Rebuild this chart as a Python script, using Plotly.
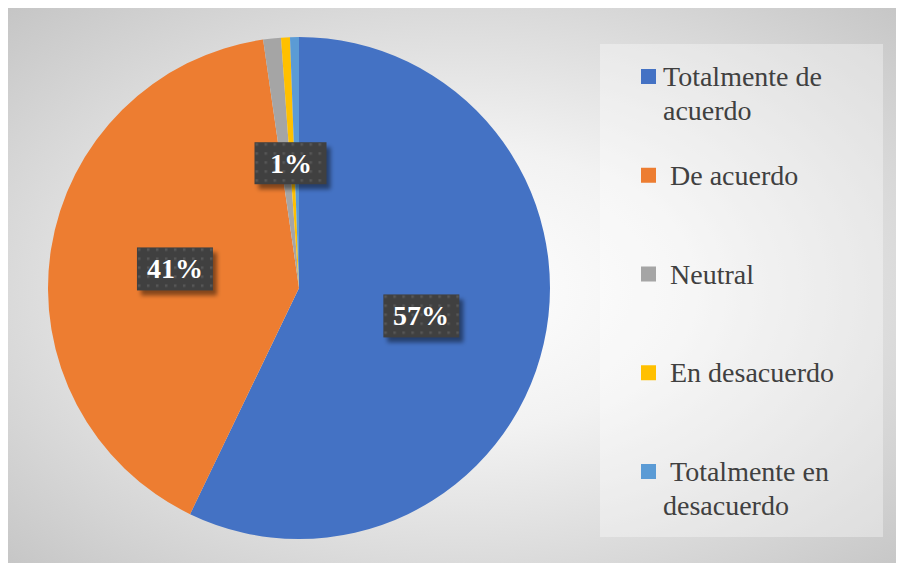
import base64
import math
import textwrap
import plotly.graph_objects as go

# ---------------- data ----------------
categories = ["Totalmente de acuerdo", "De acuerdo", "Neutral",
              "En desacuerdo", "Totalmente en desacuerdo"]
values = [100, 71, 2, 1, 1]
colors = ["#4472C4", "#ED7D31", "#A5A5A5", "#FFC000", "#5B9BD5"]

# ---------------- layout geometry (figure pixels) ----------------
W, H = 904, 563
CX, CY, R = 291, 280, 251          # pie centre / radius
LEG_BOX = (592, 36, 875, 529)
FONT = "'Liberation Serif', 'Times New Roman', Tinos, 'DejaVu Serif', 'Noto Serif', serif"
TXT = "#404040"


def fx(x):
    return x / W


def fy(y):
    return 1 - y / H


def svg_uri(svg):
    return "data:image/svg+xml;base64," + base64.b64encode(svg.encode()).decode()


images = []
shapes = []
annotations = []

# background radial gradient over the whole chart area
bg_svg = (f'<svg xmlns="http://www.w3.org/2000/svg" width="{W}" height="{H}">'
          '<defs><radialGradient id="g" cx="0.5" cy="0.5" r="0.72">'
          '<stop offset="0" stop-color="#ffffff"/>'
          '<stop offset="0.35" stop-color="#f2f2f2"/>'
          '<stop offset="1" stop-color="#c4c4c4"/></radialGradient></defs>'
          f'<rect width="{W}" height="{H}" fill="url(#g)"/></svg>')
images.append(dict(source=svg_uri(bg_svg), xref="paper", yref="paper",
                   x=0, y=1, sizex=1, sizey=1,
                   xanchor="left", yanchor="top", sizing="stretch", layer="below"))

# legend panel
shapes.append(dict(type="rect", xref="paper", yref="paper",
                   x0=fx(LEG_BOX[0]), x1=fx(LEG_BOX[2]),
                   y0=fy(LEG_BOX[3]), y1=fy(LEG_BOX[1]),
                   fillcolor="rgba(255,255,255,0.35)", line=dict(width=0),
                   layer="below"))

fig = go.Figure()
fig.add_trace(go.Pie(
    labels=categories, values=values, sort=False, direction="clockwise",
    rotation=0, textinfo="none", hoverinfo="label+percent", showlegend=False,
    marker=dict(colors=colors, line=dict(width=0)),
    domain=dict(x=[fx(CX - R), fx(CX + R)], y=[fy(CY + R), fy(CY - R)]),
))

# ---------------- data labels ----------------
total = sum(values)
cum = 0.0
for v in values:
    a0 = cum / total * 360
    cum += v
    a1 = cum / total * 360
    share = v / total * 100
    if share < 1:
        continue
    txt = f"{round(share)}%"
    mid = math.radians((a0 + a1) / 2)
    lx = CX + 0.5 * R * math.sin(mid)
    ly = CY - 0.5 * R * math.cos(mid)
    if len(txt) > 2:
        bw, bh = 76, 43
    else:
        bw, bh = 72, 42
        lx += 5
    pad = 4
    iw, ih = bw + pad * 2 + 6, bh + pad * 2 + 6
    box_svg = (f'<svg xmlns="http://www.w3.org/2000/svg" width="{iw}" height="{ih}">'
               '<defs><filter id="b" x="-20%" y="-20%" width="140%" height="140%">'
               '<feGaussianBlur stdDeviation="2.2"/></filter>'
               '<pattern id="p" x="0" y="0" width="9" height="9" patternUnits="userSpaceOnUse">'
               '<rect width="9" height="9" fill="#404040"/>'
               '<rect x="5" y="5" width="2.5" height="2.5" fill="#575757"/></pattern></defs>'
               f'<rect x="{pad + 4}" y="{pad + 5}" width="{bw}" height="{bh}" '
               'fill="rgba(0,0,0,0.45)" filter="url(#b)"/>'
               f'<rect x="{pad}" y="{pad}" width="{bw}" height="{bh}" fill="url(#p)"/></svg>')
    x0 = lx - bw / 2 - pad
    y0 = ly - bh / 2 - pad
    images.append(dict(source=svg_uri(box_svg), xref="paper", yref="paper",
                       x=fx(x0), y=fy(y0), sizex=iw / W, sizey=ih / H,
                       xanchor="left", yanchor="top", sizing="stretch",
                       layer="above"))
    annotations.append(dict(x=fx(lx), y=fy(ly), xref="paper", yref="paper",
                            text=f"<b>{txt}</b>", showarrow=False,
                            xanchor="center", yanchor="middle",
                            borderpad=0, borderwidth=0,
                            font=dict(family=FONT, size=28, color="white")))

# ---------------- legend ----------------
LEG_SQ_X = 633
LEG_TOP = 61
LEG_STEP = 98.75
SQ = 15
LINE_H = 34
for i, (lab, col) in enumerate(zip(categories, colors)):
    top = LEG_TOP + i * LEG_STEP
    shapes.append(dict(type="rect", xref="paper", yref="paper",
                       x0=fx(LEG_SQ_X), x1=fx(LEG_SQ_X + SQ),
                       y0=fy(top + SQ), y1=fy(top),
                       fillcolor=col, line=dict(width=0), layer="above"))
    lines = textwrap.wrap(lab, 14)
    base = top + 17
    for j, ln in enumerate(lines):
        t = ("\u00a0" + ln) if (i > 0 and j == 0) else ln
        annotations.append(dict(x=fx(655), y=fy(base + j * LINE_H - 9.5),
                                xref="paper", yref="paper", text=t,
                                showarrow=False, xanchor="left",
                                yanchor="middle", borderpad=0, borderwidth=0,
                                font=dict(family=FONT, size=28, color=TXT)))

fig.update_layout(
    width=W, height=H, margin=dict(l=0, r=0, t=0, b=0),
    paper_bgcolor="white", plot_bgcolor="white",
    font=dict(family=FONT),
    images=images, shapes=shapes, annotations=annotations,
    showlegend=False,
)
fig.write_html("out.html")
